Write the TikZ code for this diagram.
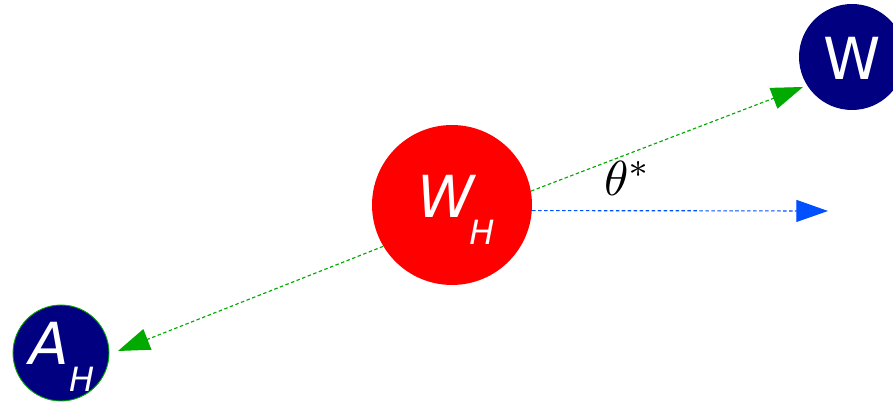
\documentclass[tikz,border=0pt]{standalone}
\usepackage{fontspec}
\newfontfamily\lblfont{DejaVu Sans}
\usetikzlibrary{arrows.meta}
\definecolor{navyc}{RGB}{0,0,128}
\definecolor{redc}{RGB}{255,0,0}
\definecolor{greenc}{RGB}{0,170,0}
\definecolor{bluec}{RGB}{0,80,255}
\newcommand{\bigsz}{\fontsize{33}{38}\selectfont}
\newcommand{\subsz}{\fontsize{19}{22}\selectfont}
\begin{document}
\begin{tikzpicture}[x=0.02cm,y=-0.02cm,
  ball/.style={circle,inner sep=0pt,fill=navyc},
  lbl/.style={inner sep=0pt,text=white,font=\lblfont\bigsz},
  conn/.style={dash pattern=on 2pt off 1.4pt,line width=0.65pt,
    -{Triangle[length=18pt,width=12.5pt]}},
]
\useasboundingbox (0,0) rectangle (893,404);
\clip (0,0) rectangle (893,404);
\node[circle,inner sep=0pt,fill=redc,minimum size=3.2cm] (wh) at (452,205) {};
\node[ball,minimum size=2.12cm] (w) at (852,57) {};
\node[ball,minimum size=1.92cm,draw=greenc,line width=0.5pt] (ah) at (61,353) {};
\coordinate (tipw) at (803,87);
\coordinate (tipa) at (118,351);
\coordinate (tipb) at (828,211);
\draw[conn,greenc] (wh.10.5) -- (tipw);
\draw[conn,greenc] (wh.211) -- (tipa);
\draw[conn,bluec] (wh.-4.3) -- (tipb);
\node[lbl,anchor=base] (wl) at (852,80) {W};
\node[lbl,anchor=base west] (whl) at (417,218) {\itshape W\kern-3pt\raisebox{-15.3pt}{\subsz H}};
\node[lbl,anchor=base west] (ahl) at (29,365) {\itshape A\raisebox{-15.3pt}{\subsz H}};
\node[inner sep=0pt] (th) at (628,178) {\scalebox{2.8}{$\theta^*$}};
\end{tikzpicture}
\end{document}
